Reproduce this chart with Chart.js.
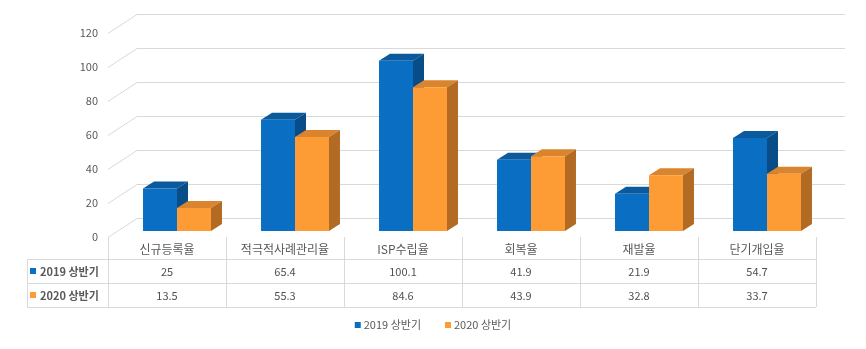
<!DOCTYPE html>
<html>
<head>
<meta charset="utf-8">
<script src="https://cdn.jsdelivr.net/npm/chart.js@4.4.1/dist/chart.umd.min.js"></script>
<style>
  html, body { margin: 0; padding: 0; background: #fff; }
</style>
</head>
<body>
<canvas id="rateChart" width="866" height="349"></canvas>
<script>
const categories = ["신규등록율", "적극적사례관리율", "ISP수립율", "회복율", "재발율", "단기개입율"];
const seriesNames = ["2019 상반기", "2020 상반기"];
const values2019 = [25, 65.4, 100.1, 41.9, 21.9, 54.7];
const values2020 = [13.5, 55.3, 84.6, 43.9, 32.8, 33.7];
const yTicks = [0, 20, 40, 60, 80, 100, 120];

const FONT = "'Noto Sans CJK KR', 'Noto Sans', sans-serif";
const frontColors = ["#0A6FC2", "#FD9B34"];
const topColors = ["#0B5A9E", "#DA852E"];
const sideColors = ["#084C88", "#B36B23"];

// depth offsets of the fake 3d box, relative to the plane the bars stand in
const BAR_DEPTH = { x: 11, y: -7 };
const FRONT = { x: -10, y: 6 };
const BACK = { x: 19, y: -13 };

const threeD = {
  id: "threeD",
  beforeDatasetsDraw(chart) {
    const { ctx, chartArea: a, scales: { y } } = chart;
    ctx.save();
    ctx.strokeStyle = "#d9d9d9";
    ctx.lineWidth = 1;
    yTicks.forEach((v) => {
      const py = Math.round(y.getPixelForValue(v)) + 0.5;
      ctx.beginPath();
      ctx.moveTo(a.left + FRONT.x, py + FRONT.y);
      ctx.lineTo(a.left + BACK.x, py + BACK.y);
      ctx.lineTo(a.right + BACK.x, py + BACK.y);
      ctx.stroke();
    });

    // tops and right-hand sides; the front faces come from chart.js on top
    chart.data.datasets.forEach((ds, di) => {
      chart.getDatasetMeta(di).data.forEach((bar) => {
        const l = bar.x - bar.width / 2;
        const r = bar.x + bar.width / 2;
        const t = bar.y;
        const b = bar.base;
        ctx.fillStyle = topColors[di];
        ctx.beginPath();
        ctx.moveTo(l, t);
        ctx.lineTo(r, t);
        ctx.lineTo(r + BAR_DEPTH.x, t + BAR_DEPTH.y);
        ctx.lineTo(l + BAR_DEPTH.x, t + BAR_DEPTH.y);
        ctx.closePath();
        ctx.fill();
        ctx.fillStyle = sideColors[di];
        ctx.beginPath();
        ctx.moveTo(r, t);
        ctx.lineTo(r + BAR_DEPTH.x, t + BAR_DEPTH.y);
        ctx.lineTo(r + BAR_DEPTH.x, b + BAR_DEPTH.y);
        ctx.lineTo(r, b);
        ctx.closePath();
        ctx.fill();
      });
    });
    ctx.restore();
  },
  afterDraw(chart) {
    const { ctx, chartArea: a, scales: { y } } = chart;
    ctx.save();

    // y labels on the front edge of the side wall
    ctx.fillStyle = "#595959";
    ctx.font = "11px " + FONT;
    ctx.textAlign = "right";
    ctx.textBaseline = "middle";
    yTicks.forEach((v) => {
      ctx.fillText(String(v), a.left + FRONT.x - 10, y.getPixelForValue(v) + FRONT.y);
    });

    // data table under the plot
    const left = a.left + FRONT.x;
    const colW = (a.right - a.left) / categories.length;
    const right = left + colW * categories.length;
    const tableTop = y.getPixelForValue(0) + FRONT.y;
    const headLeft = 27;
    const rowLines = [259, 283, 307];
    const rows = [values2019, values2020];

    ctx.strokeStyle = "#d9d9d9";
    ctx.lineWidth = 1;
    ctx.beginPath();
    rowLines.forEach((ry) => {
      ctx.moveTo(headLeft, ry + 0.5);
      ctx.lineTo(right, ry + 0.5);
    });
    ctx.moveTo(headLeft + 0.5, rowLines[0]);
    ctx.lineTo(headLeft + 0.5, rowLines[2]);
    for (let i = 0; i <= categories.length; i++) {
      const cx = Math.round(left + colW * i) + 0.5;
      ctx.moveTo(cx, tableTop);
      ctx.lineTo(cx, rowLines[2]);
    }
    ctx.stroke();

    ctx.textAlign = "center";
    ctx.fillStyle = "#595959";
    ctx.font = "12px " + FONT;
    categories.forEach((c, i) => {
      ctx.fillText(c, left + colW * (i + 0.5), 249);
    });

    ctx.font = "11px " + FONT;
    ctx.fillStyle = "#505050";
    rows.forEach((vals, ri) => {
      const cy = (rowLines[ri] + rowLines[ri + 1]) / 2 + 1;
      vals.forEach((v, i) => {
        ctx.fillText(String(v), left + colW * (i + 0.5), cy);
      });
    });

    ctx.textAlign = "left";
    ctx.font = "bold 11px " + FONT;
    seriesNames.forEach((name, ri) => {
      const cy = (rowLines[ri] + rowLines[ri + 1]) / 2 + 1;
      ctx.fillStyle = frontColors[ri];
      ctx.fillRect(30, cy - 4, 6, 6);
      ctx.fillStyle = "#595959";
      ctx.fillText(name, 40, cy);
    });

    // legend
    ctx.font = "11px " + FONT;
    const gap = 24;
    const widths = seriesNames.map((n) => 9 + ctx.measureText(n).width);
    let lx = 433 - (widths[0] + widths[1] + gap) / 2;
    const ly = 325;
    seriesNames.forEach((name, i) => {
      ctx.fillStyle = frontColors[i];
      ctx.fillRect(lx, ly - 3, 6, 6);
      ctx.fillStyle = "#595959";
      ctx.fillText(name, lx + 9, ly);
      lx += widths[i] + gap;
    });

    ctx.restore();
  },
};

new Chart(document.getElementById("rateChart"), {
  type: "bar",
  data: {
    labels: categories,
    datasets: [
      { label: seriesNames[0], data: values2019, backgroundColor: frontColors[0] },
      { label: seriesNames[1], data: values2020, backgroundColor: frontColors[1] },
    ],
  },
  options: {
    responsive: false,
    animation: false,
    layout: { padding: { left: 118, right: 40, top: 27, bottom: 118 } },
    datasets: {
      bar: { categoryPercentage: 0.576, barPercentage: 1, borderWidth: 0 },
    },
    scales: {
      x: { display: false },
      y: { display: false, min: 0, max: 120 },
    },
    plugins: {
      legend: { display: false },
      tooltip: { enabled: false },
    },
  },
  plugins: [threeD],
});
</script>
</body>
</html>
